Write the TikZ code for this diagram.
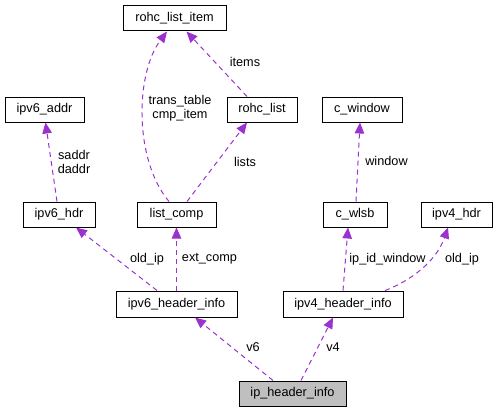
\documentclass[tikz,border=0pt]{standalone}
\usepackage{fontspec}
\setmainfont{Liberation Sans}
\usetikzlibrary{arrows.meta}
\definecolor{edgec}{HTML}{9A32CD}
\definecolor{mainfill}{HTML}{BFBFBF}
\tikzset{
  cls/.style={draw=black, line width=1pt, fill=white, inner sep=0pt, minimum height=25pt, font=\fontsize{12.7}{14}\selectfont},
  rel/.style={draw=edgec, line width=1pt, dash pattern=on 5pt off 4pt, -{Triangle[length=11pt,width=9.5pt,fill=edgec]}},
  lab/.style={inner sep=0pt, align=center, font=\fontsize{12.7}{14.5}\selectfont}
}
\begin{document}
\begin{tikzpicture}[x=1pt,y=-1pt]
\useasboundingbox (0,0) rectangle (497,412);
% nodes
\node[cls, minimum width=103pt] (rli) at (174.5,18.5) {rohc\_list\_item};
\node[cls, minimum width=79pt] (v6addr) at (44.5,109.5) {ipv6\_addr};
\node[cls, minimum width=70pt] (rl) at (262,109.5) {rohc\_list};
\node[cls, minimum width=80pt] (cwin) at (362,109.5) {c\_window};
\node[cls, minimum width=72pt] (v6hdr) at (59,214.5) {ipv6\_hdr};
\node[cls, minimum width=79pt] (lc) at (176.5,214.5) {list\_comp};
\node[cls, minimum width=64pt] (cw) at (355,214.5) {c\_wlsb};
\node[cls, minimum width=71pt] (v4hdr) at (456.5,214.5) {ipv4\_hdr};
\node[cls, minimum width=121pt, minimum height=26pt] (v6i) at (176.5,304) {ipv6\_header\_info};
\node[cls, minimum width=120pt, minimum height=26pt] (v4i) at (343,304) {ipv4\_header\_info};
\node[cls, minimum width=107pt, fill=mainfill] (ip) at (292.5,393.5) {ip\_header\_info};
% edges
\draw[rel] ([xshift=-19.5pt]ip.north) -- ([xshift=18.5pt]v6i.south);
\draw[rel] ([xshift=8.5pt]ip.north) -- ([xshift=-10pt]v4i.south);
\draw[rel] ([xshift=-19.5pt]v6i.north) -- ([xshift=17pt]v6hdr.south);
\draw[rel] (v6i.north) -- (lc.south);
\draw[rel] (v4i.north) -- ([xshift=-7pt]cw.south);
\draw[rel] ([xshift=42pt]v4i.north) .. controls (410,281) and (436,262) .. ([xshift=-8.5pt]v4hdr.south);
\draw[rel] ([xshift=1pt]cw.north) -- ([xshift=-2pt]cwin.south);
\draw[rel] ([xshift=10.5pt]lc.north) -- ([xshift=-15pt]rl.south);
\draw[rel] ([xshift=-7.5pt]lc.north) .. controls (134,160) and (135,74) .. ([xshift=-7.5pt]rli.south);
\draw[rel] ([xshift=-15pt]rl.north) -- ([xshift=12pt]rli.south);
\draw[rel] ([xshift=-2pt]v6hdr.north) -- ([xshift=1pt]v6addr.south);
% labels
\node[lab] (lv6) at (253,347) {v6};
\node[lab] (lv4) at (333,347) {v4};
\node[lab] (lold6) at (147,259) {old\_ip};
\node[lab] (lext) at (209.5,259) {ext\_comp};
\node[lab] (lipid) at (387.5,259) {ip\_id\_window};
\node[lab] (lold4) at (462,259) {old\_ip};
\node[lab] (lwin) at (386.5,161) {window};
\node[lab] (llists) at (245,162) {lists};
\node[lab] (ltt) at (180,108) {trans\_table\\cmp\_item};
\node[lab] (litems) at (245,62) {items};
\node[lab] (lsd) at (74,162) {saddr\\daddr};
\end{tikzpicture}
\end{document}
